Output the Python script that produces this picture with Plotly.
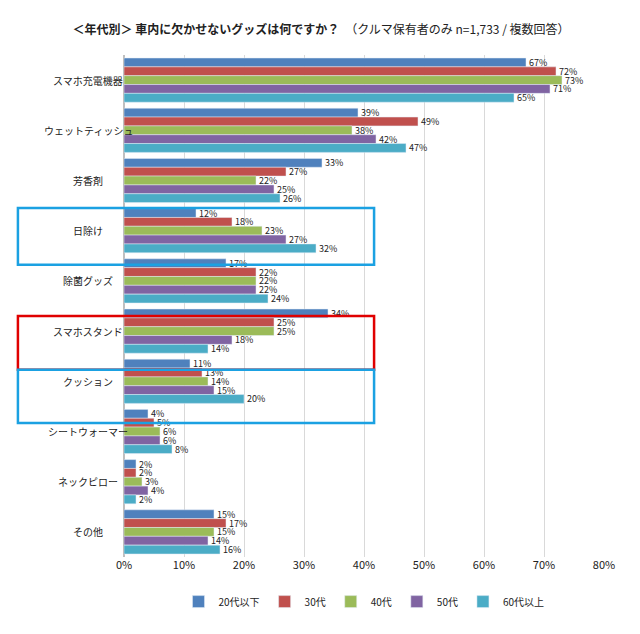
import plotly.graph_objects as go

categories = ["スマホ充電機器", "ウェットティッシュ", "芳香剤", "日除け", "除菌グッズ",
              "スマホスタンド", "クッション", "シートウォーマー", "ネックピロー", "その他"]
series_names = ["20代以下", "30代", "40代", "50代", "60代以上"]
colors = ["#4F81BD", "#C0504D", "#9BBB59", "#8064A2", "#4BACC6"]
values = [
    [67, 39, 33, 12, 17, 34, 11, 4, 2, 15],
    [72, 49, 27, 18, 22, 25, 13, 5, 2, 17],
    [73, 38, 22, 23, 22, 25, 14, 6, 3, 15],
    [71, 42, 25, 27, 22, 18, 15, 6, 4, 14],
    [65, 47, 26, 32, 24, 14, 20, 8, 2, 16],
]
x_ticks = [0, 10, 20, 30, 40, 50, 60, 70, 80]

font = "Noto Sans CJK JP"
fig = go.Figure()
for name, color, vals in zip(series_names, colors, values):
    fig.add_trace(go.Bar(
        y=categories, x=vals, name=name, orientation="h", marker_color=color,
        text=[f"{v}%" for v in vals], textposition="outside", cliponaxis=False,
        constraintext="none", textfont=dict(size=9, color="#222"),
    ))

for c in categories:
    fig.add_annotation(x=-0.075, xref="paper", y=c, yref="y", text=c, showarrow=False,
                       xanchor="center", font=dict(size=10, color="#222"))

for y0, y1, col in [(0.582, 0.695, "#1BA1E2"), (0.373, 0.480, "#E00000"), (0.267, 0.373, "#1BA1E2")]:
    fig.add_shape(type="rect", xref="paper", yref="paper", x0=-0.221, x1=0.521,
                  y0=y0, y1=y1, line=dict(color=col, width=2.5))

fig.update_layout(
    width=626, height=620, barmode="group", bargap=0.12, bargroupgap=0,
    plot_bgcolor="white", paper_bgcolor="white",
    margin=dict(l=116, r=30, t=47, b=71, autoexpand=False),
    font=dict(family=font, size=11, color="#222"),
    title=dict(text="<b>＜年代別＞ 車内に欠かせないグッズは何ですか？</b>　（クルマ保有者のみ n=1,733 / 複数回答）",
               x=0.5, y=0.972, xanchor="center", font=dict(size=12)),
    legend=dict(orientation="h", x=0.5, xanchor="center", y=-0.06, yanchor="top",
                font=dict(size=10), itemwidth=30, entrywidth=0),
    xaxis=dict(range=[0, 80], tickvals=x_ticks, ticktext=[f"{t}%" for t in x_ticks],
               showgrid=True, gridcolor="#D9D9D9", zeroline=True, zerolinecolor="#BFBFBF",
               automargin=False),
    yaxis=dict(autorange="reversed", showticklabels=False, showline=True, linecolor="#BFBFBF",
               automargin=False),
)
fig.write_html("out.html")
